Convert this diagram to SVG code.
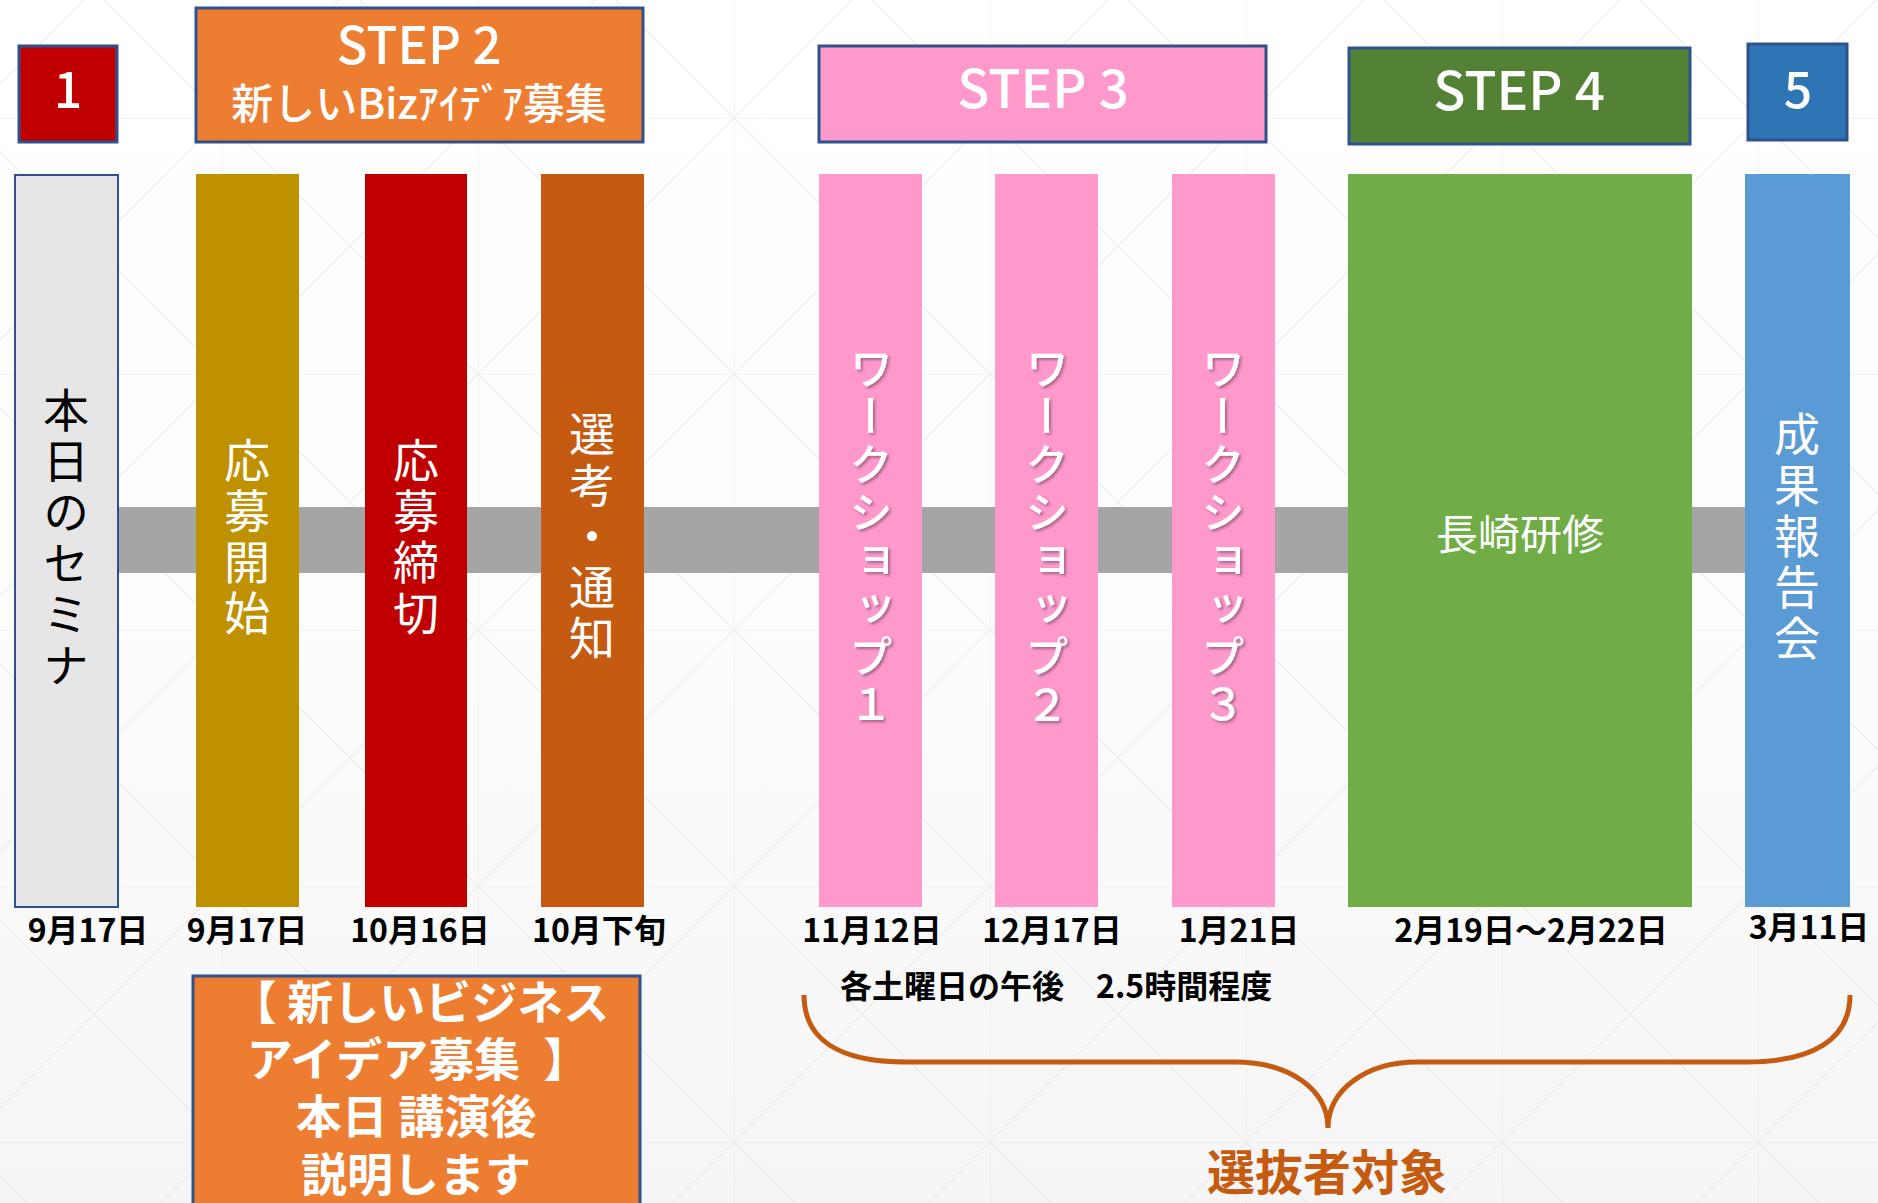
<svg xmlns="http://www.w3.org/2000/svg" width="1878" height="1203" viewBox="0 0 1878 1203">
<style>
.t{font-family:"Noto Sans CJK JP","Noto Sans",sans-serif;}
.title{font-family:"Noto Sans CJK JP","Noto Sans",sans-serif;font-weight:500;fill:#fff;text-anchor:middle;}
.box{stroke:#2F528F;stroke-width:3;}
.v{font-family:"Noto Sans CJK JP",sans-serif;font-size:46px;writing-mode:vertical-rl;text-orientation:upright;text-anchor:middle;letter-spacing:5px;}
.vw{font-family:"Noto Sans CJK JP",sans-serif;font-size:44px;font-weight:500;writing-mode:vertical-rl;text-orientation:upright;text-anchor:middle;letter-spacing:4px;fill:#fff;}
.date{font-family:"Noto Sans CJK JP",sans-serif;font-size:32px;font-weight:700;fill:#000;text-anchor:middle;}
.big{font-family:"Noto Sans CJK JP",sans-serif;font-size:46px;font-weight:700;fill:#fff;text-anchor:middle;}
</style>
<defs>
<linearGradient id="bg" x1="0" y1="0" x2="0" y2="1">
<stop offset="0" stop-color="#ffffff"/>
<stop offset="0.5" stop-color="#fdfdfd"/>
<stop offset="1" stop-color="#f5f5f5"/>
</linearGradient>
<pattern id="grid" patternUnits="userSpaceOnUse" x="222" y="118" width="256" height="256">
<path d="M0,0H256M0,0V256M0,0L256,256M256,0L0,256" stroke="#e6e6e6" stroke-width="1.5" fill="none" opacity="0.6"/>
</pattern>
<filter id="sh" x="-20%" y="-5%" width="140%" height="110%">
<feDropShadow dx="2" dy="2" stdDeviation="1.5" flood-color="#000" flood-opacity="0.35"/>
</filter>
</defs>
<rect width="1878" height="1203" fill="url(#bg)"/>
<rect width="1878" height="1203" fill="url(#grid)"/>

<g id="connectors">
<rect x="118" y="507" width="1627" height="66" fill="#A5A5A5"/>
<path d="M804,995 C804,1040 840,1062 906,1062 L1235,1062 C1290,1062 1328,1090 1328,1128 C1328,1090 1366,1062 1417,1062 L1746,1062 C1812,1062 1850,1040 1850,995" fill="none" stroke="#C55A11" stroke-width="5"/>
</g>

<g id="step1">
<rect class="box" x="19" y="46" width="98" height="96" fill="#C00000"/>
<text class="title" x="68" y="108" font-size="50">1</text>
</g>
<g id="step2">
<rect class="box" x="196" y="8" width="447" height="134" fill="#ED7D31"/>
<text class="title" x="419" y="64" font-size="51">STEP 2<tspan x="419" y="119" font-size="42">新しいBizｱｲﾃﾞｱ募集</tspan></text>
</g>
<g id="step3">
<rect class="box" x="819" y="46" width="447" height="96" fill="#FF99CC"/>
<text class="title" x="1043" y="108" font-size="53">STEP 3</text>
</g>
<g id="step4">
<rect class="box" x="1349" y="48" width="341" height="96" fill="#548235"/>
<text class="title" x="1519" y="110" font-size="53">STEP 4</text>
</g>
<g id="step5">
<rect class="box" x="1748" y="44" width="99" height="96" fill="#2E75B6"/>
<text class="title" x="1798" y="108" font-size="50">5</text>
</g>

<g id="seminar">
<rect x="15" y="175" width="103" height="732" fill="#E7E6E6" stroke="#2F528F" stroke-width="2"/>
<text class="v" x="66" y="540" fill="#000">本日のセミナ</text>
<text class="date" x="88" y="942">9月17日</text>
</g>
<g id="apply-start">
<rect x="196" y="174" width="103" height="733" fill="#BF9000"/>
<text class="v" x="247" y="539" fill="#fff">応募開始</text>
<text class="date" x="247" y="942">9月17日</text>
</g>
<g id="apply-end">
<rect x="365" y="174" width="102" height="733" fill="#C00000"/>
<text class="v" x="416" y="539" fill="#fff">応募締切</text>
<text class="date" x="420" y="942">10月16日</text>
</g>
<g id="selection">
<rect x="541" y="174" width="103" height="733" fill="#C55A11"/>
<text class="v" x="592" y="538" fill="#fff">選考・通知</text>
<text class="date" x="599" y="942">10月下旬</text>
</g>
<g id="ws1">
<rect x="819" y="174" width="103" height="733" fill="#FF99CC"/>
<text class="vw" x="871" y="538" filter="url(#sh)">ワークショップ１</text>
<text class="date" x="872" y="942">11月12日</text>
</g>
<g id="ws2">
<rect x="995" y="174" width="103" height="733" fill="#FF99CC"/>
<text class="vw" x="1047" y="538" filter="url(#sh)">ワークショップ２</text>
<text class="date" x="1052" y="942">12月17日</text>
</g>
<g id="ws3">
<rect x="1172" y="174" width="103" height="733" fill="#FF99CC"/>
<text class="vw" x="1223" y="538" filter="url(#sh)">ワークショップ３</text>
<text class="date" x="1239" y="942">1月21日</text>
</g>
<g id="nagasaki">
<rect x="1348" y="174" width="344" height="733" fill="#70AD47"/>
<text class="t" x="1520" y="550" font-size="42" fill="#fff" text-anchor="middle">長崎研修</text>
<text class="date" x="1531" y="942">2月19日～2月22日</text>
</g>
<g id="report">
<rect x="1745" y="174" width="105" height="733" fill="#5B9BD5"/>
<text class="v" x="1797" y="538" fill="#fff">成果報告会</text>
<text class="date" x="1809" y="939">3月11日</text>
</g>

<g id="ws-note">
<text class="date" x="840" y="998" style="text-anchor:start">各土曜日の午後　2.5時間程度</text>
</g>
<g id="selected">
<text class="t" x="1327" y="1190" font-size="48" font-weight="700" fill="#C55A11" text-anchor="middle">選抜者対象</text>
</g>
<g id="info-box">
<rect class="box" x="193" y="976" width="447" height="240" fill="#ED7D31" stroke-width="2.5"/>
<text class="big" x="420" y="1019">【 新しいビジネス<tspan x="418" y="1076">アイデア募集&#8194;】</tspan><tspan x="416" y="1133">本日 講演後</tspan><tspan x="416" y="1191">説明します</tspan></text>
</g>
</svg>
